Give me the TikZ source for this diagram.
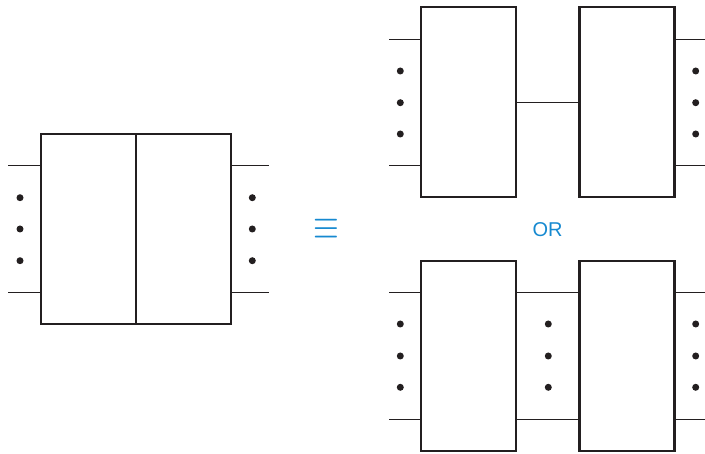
\documentclass[tikz,border=0pt]{standalone}
\usepackage{fontspec}
\newfontfamily\orfont{Liberation Sans}
\definecolor{ink}{HTML}{231F20}
\definecolor{accent}{HTML}{1689D0}
\begin{document}
\begin{tikzpicture}[x=1pt,y=-1pt,
  box/.style={draw=ink,line width=2.4pt,inner sep=0pt,outer sep=0pt,fill=white},
  wire/.style={draw=ink,line width=1.4pt},
  dotmark/.style={circle,fill=ink,inner sep=0pt,minimum size=7pt}]
\useasboundingbox (0,0) rectangle (705,454);

% ---------- left block ----------
\node[box,minimum width=190pt,minimum height=190pt] (L) at (136,229) {};
\draw[wire] (L.north) -- (L.south);
\coordinate (la) at (8,165.7);
\coordinate (lb) at (8,292.5);
\coordinate (ra) at (268.5,165.7);
\coordinate (rb) at (268.5,292.5);
\draw[wire] (la) -- (la -| L.west);
\draw[wire] (lb) -- (lb -| L.west);
\draw[wire] (ra) -- (ra -| L.east);
\draw[wire] (rb) -- (rb -| L.east);
\node[dotmark] (ld1) at (20,197.7) {};
\node[dotmark] (ld2) at (20,229) {};
\node[dotmark] (ld3) at (20,260.7) {};
\node[dotmark] (rd1) at (252.3,197.7) {};
\node[dotmark] (rd2) at (252.3,229) {};
\node[dotmark] (rd3) at (252.3,260.7) {};

% ---------- equivalence and OR ----------
\node[text=accent,inner sep=0pt] (eq) at (326.2,229.3)
  {\scalebox{1.33}[1.75]{\fontsize{24.88}{24.88}\selectfont$\equiv$}};
\node[text=accent,font=\orfont\fontsize{20}{20}\selectfont,inner sep=0pt] (or) at (547.5,229.8) {OR};

% ---------- top right (series, single wire) ----------
\node[box,minimum width=95pt,minimum height=190pt] (A) at (468.6,102.3) {};
\node[box,minimum width=95pt,minimum height=190pt] (B) at (627,102.3) {};
\draw[wire] (A.east) -- (B.west);
\coordinate (ta) at (389,39.3);
\coordinate (tb) at (389,165.7);
\coordinate (tc) at (705,39.3);
\coordinate (td) at (705,165.7);
\draw[wire] (ta) -- (ta -| A.west);
\draw[wire] (tb) -- (tb -| A.west);
\draw[wire] (tc) -- (tc -| B.east);
\draw[wire] (td) -- (td -| B.east);
\node[dotmark] (tl1) at (400.3,71) {};
\node[dotmark] (tl2) at (400.3,102.7) {};
\node[dotmark] (tl3) at (400.3,134) {};
\node[dotmark] (tr1) at (695.7,71) {};
\node[dotmark] (tr2) at (695.7,102.7) {};
\node[dotmark] (tr3) at (695.7,134) {};

% ---------- bottom right (series, bus) ----------
\node[box,minimum width=95pt,minimum height=190pt] (C) at (468.6,355.9) {};
\node[box,minimum width=95pt,minimum height=190pt] (D) at (627,355.9) {};
\coordinate (ba) at (389,292.7);
\coordinate (bb) at (389,419.3);
\coordinate (bc) at (705,292.7);
\coordinate (bd) at (705,419.3);
\draw[wire] (ba) -- (ba -| C.west);
\draw[wire] (bb) -- (bb -| C.west);
\draw[wire] (bc) -- (bc -| D.east);
\draw[wire] (bd) -- (bd -| D.east);
\draw[wire] (ba -| C.east) -- (ba -| D.west);
\draw[wire] (bb -| C.east) -- (bb -| D.west);
\node[dotmark] (bl1) at (400.3,324) {};
\node[dotmark] (bl2) at (400.3,356) {};
\node[dotmark] (bl3) at (400.3,387.3) {};
\node[dotmark] (bm1) at (548.3,324) {};
\node[dotmark] (bm2) at (548.3,356) {};
\node[dotmark] (bm3) at (548.3,387.3) {};
\node[dotmark] (br1) at (695.7,324) {};
\node[dotmark] (br2) at (695.7,356) {};
\node[dotmark] (br3) at (695.7,387.3) {};
\end{tikzpicture}
\end{document}
